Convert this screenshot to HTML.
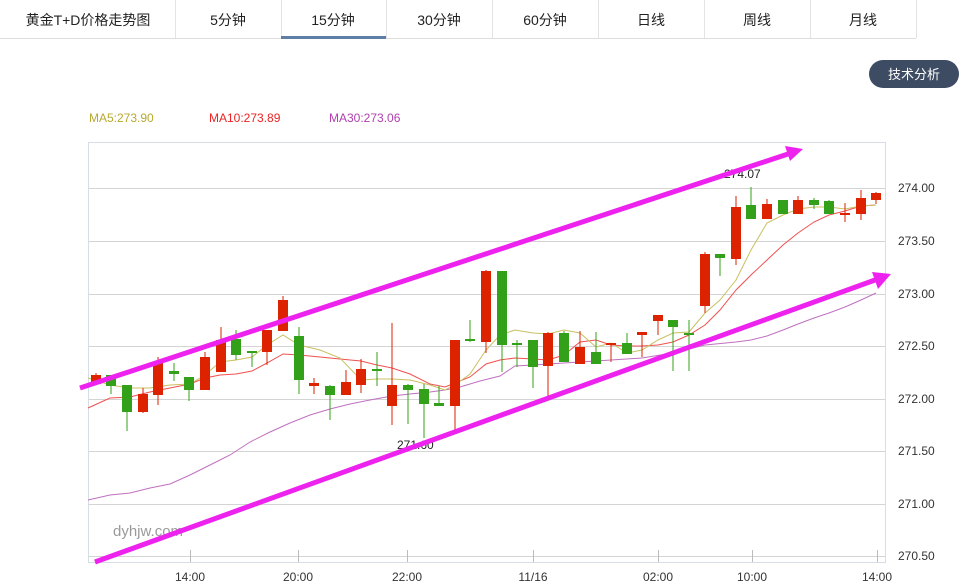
<!DOCTYPE html>
<html><head><meta charset="utf-8"><style>
body{margin:0;background:#fff;width:969px;height:587px;overflow:hidden;font-family:"Liberation Sans","Noto Sans CJK SC",sans-serif;}
</style></head><body>
<svg width="969" height="587" xmlns="http://www.w3.org/2000/svg" style="position:absolute;left:0;top:0;font-family:'Liberation Sans','Noto Sans CJK SC',sans-serif">
<!-- tabs -->
<rect x="0" y="0" width="916" height="39" fill="#fff"/>
<line x1="0" y1="38.5" x2="916" y2="38.5" stroke="#ddd"/>
<g stroke="#e3e3e3">
<line x1="175.5" y1="0" x2="175.5" y2="38"/><line x1="281.5" y1="0" x2="281.5" y2="38"/><line x1="386.5" y1="0" x2="386.5" y2="38"/><line x1="492.5" y1="0" x2="492.5" y2="38"/><line x1="598.5" y1="0" x2="598.5" y2="38"/><line x1="704.5" y1="0" x2="704.5" y2="38"/><line x1="810.5" y1="0" x2="810.5" y2="38"/><line x1="916.5" y1="0" x2="916.5" y2="38"/>
</g>
<rect x="281" y="36" width="105" height="3" fill="#5e7ea6"/>
<g font-size="14" fill="#222" text-anchor="middle">
<text x="88" y="25">黄金T+D价格走势图</text>
<text x="228" y="25">5分钟</text><text x="333" y="25">15分钟</text><text x="439" y="25">30分钟</text><text x="545" y="25">60分钟</text><text x="651" y="25">日线</text><text x="757" y="25">周线</text><text x="863" y="25">月线</text>
</g>
<rect x="869" y="60" width="90" height="28" rx="14" fill="#3d4b63"/>
<text x="914" y="79" font-size="13" fill="#fff" text-anchor="middle">技术分析</text>
<g font-size="12">
<text x="89" y="122" fill="#b8a830">MA5:273.90</text>
<text x="209" y="122" fill="#ee2222">MA10:273.89</text>
<text x="329" y="122" fill="#b040b0">MA30:273.06</text>
</g>
<!-- plot frame -->
<rect x="88.5" y="142.5" width="797" height="420" fill="none" stroke="#d6dde6"/>
<g stroke="#d4d4d4">
<line x1="89" y1="188.5" x2="885" y2="188.5"/><line x1="89" y1="241.5" x2="885" y2="241.5"/><line x1="89" y1="294.5" x2="885" y2="294.5"/><line x1="89" y1="346.5" x2="885" y2="346.5"/><line x1="89" y1="399.5" x2="885" y2="399.5"/><line x1="89" y1="451.5" x2="885" y2="451.5"/><line x1="89" y1="504.5" x2="885" y2="504.5"/><line x1="89" y1="556.5" x2="885" y2="556.5"/>
</g>
<g font-size="12" fill="#333">
<text x="898" y="192">274.00</text><text x="898" y="245">273.50</text><text x="898" y="298">273.00</text><text x="898" y="350">272.50</text><text x="898" y="403">272.00</text><text x="898" y="455">271.50</text><text x="898" y="508">271.00</text><text x="898" y="560">270.50</text>
</g>
<g stroke="#bbb"><line x1="190.5" y1="550" x2="190.5" y2="562"/><line x1="298.5" y1="550" x2="298.5" y2="562"/><line x1="407.5" y1="550" x2="407.5" y2="562"/><line x1="533.5" y1="550" x2="533.5" y2="562"/><line x1="658.5" y1="550" x2="658.5" y2="562"/><line x1="752.5" y1="550" x2="752.5" y2="562"/><line x1="877.5" y1="550" x2="877.5" y2="562"/></g>
<g font-size="12" fill="#333" text-anchor="middle">
<text x="190" y="581">14:00</text><text x="298" y="581">20:00</text><text x="407" y="581">22:00</text><text x="533" y="581">11/16</text><text x="658" y="581">02:00</text><text x="752" y="581">10:00</text><text x="877" y="581">14:00</text>
</g>
<text x="113" y="536" font-size="15" fill="#9a9a9a">dyhjw.com</text>
<!-- MA lines -->
<polyline fill="none" stroke="#c070c0" stroke-width="1" points="88,500 110,495 130,493 150,488 170,484 190,475 210,465 230,455 250,442 270,432 290,423 310,415 330,409 350,404 370,400 392,396 410,394 430,392 445,390 460,387 480,381 500,376 515,366 533,365 548,364 580,362 611,360 642,358 673,353 705,345 736,342 751,340 767,336 783,330 798,324 814,318 829,313 845,307 861,300 876,293"/>
<polyline fill="none" stroke="#f05050" stroke-width="1" points="88,408 110,398 130,397 150,392 170,388 190,384 205,378 220,375 236,374 252,371 267,363 283,354 299,355 320,357 340,359 361,361 377,365 392,368 410,374 430,384 445,387 455,383 470,377 486,364 500,360 515,358 533,359 548,360 564,355 580,342 596,340 611,345 627,346 642,346 658,345 673,342 689,335 705,325 720,310 736,290 751,275 767,260 783,245 798,233 814,222 829,215 845,211 861,206 876,205"/>
<polyline fill="none" stroke="#c8c060" stroke-width="1" points="88,378 110,385 130,388 150,388 170,385 190,384 205,375 220,362 236,360 252,357 267,345 283,335 299,345 320,350 340,358 361,380 377,379 392,379 410,380 430,385 445,390 455,385 470,374 486,350 500,335 515,330 533,333 548,334 564,330 580,333 596,347 611,343 627,353 642,350 658,340 673,333 689,332 705,313 720,300 736,280 751,250 767,223 783,215 798,209 814,207 829,207 845,209 861,206 876,205"/>
<!-- candles -->
<g id="c"></g>
<g stroke-width="1">
<!-- red: #dd2200 green: #33a019 -->
<line x1="96" y1="373" x2="96" y2="385" stroke="#dd2200"/><rect x="91" y="375" width="10" height="9" fill="#dd2200"/>
<line x1="111" y1="375" x2="111" y2="394" stroke="#33a019"/><rect x="106" y="375" width="10" height="11" fill="#33a019"/>
<line x1="127" y1="385" x2="127" y2="431" stroke="#33a019"/><rect x="122" y="385" width="10" height="27" fill="#33a019"/>
<line x1="143" y1="388" x2="143" y2="413" stroke="#dd2200"/><rect x="138" y="394" width="10" height="18" fill="#dd2200"/>
<line x1="158" y1="357" x2="158" y2="405" stroke="#dd2200"/><rect x="153" y="363" width="10" height="32" fill="#dd2200"/>
<line x1="174" y1="363" x2="174" y2="381" stroke="#33a019"/><rect x="169" y="371" width="10" height="3" fill="#33a019"/>
<line x1="189" y1="377" x2="189" y2="401" stroke="#33a019"/><rect x="184" y="377" width="10" height="13" fill="#33a019"/>
<line x1="205" y1="352" x2="205" y2="390" stroke="#dd2200"/><rect x="200" y="357" width="10" height="33" fill="#dd2200"/>
<line x1="221" y1="327" x2="221" y2="372" stroke="#dd2200"/><rect x="216" y="340" width="10" height="32" fill="#dd2200"/>
<line x1="236" y1="330" x2="236" y2="360" stroke="#33a019"/><rect x="231" y="339" width="10" height="16" fill="#33a019"/>
<line x1="252" y1="351" x2="252" y2="367" stroke="#33a019"/><rect x="247" y="351" width="10" height="2" fill="#33a019"/>
<line x1="267" y1="330" x2="267" y2="365" stroke="#dd2200"/><rect x="262" y="330" width="10" height="22" fill="#dd2200"/>
<line x1="283" y1="296" x2="283" y2="331" stroke="#dd2200"/><rect x="278" y="300" width="10" height="31" fill="#dd2200"/>
<line x1="299" y1="327" x2="299" y2="394" stroke="#33a019"/><rect x="294" y="336" width="10" height="44" fill="#33a019"/>
<line x1="314" y1="378" x2="314" y2="394" stroke="#dd2200"/><rect x="309" y="383" width="10" height="3" fill="#dd2200"/>
<line x1="330" y1="385" x2="330" y2="420" stroke="#33a019"/><rect x="325" y="386" width="10" height="9" fill="#33a019"/>
<line x1="346" y1="370" x2="346" y2="395" stroke="#dd2200"/><rect x="341" y="382" width="10" height="13" fill="#dd2200"/>
<line x1="361" y1="359" x2="361" y2="393" stroke="#dd2200"/><rect x="356" y="369" width="10" height="16" fill="#dd2200"/>
<line x1="377" y1="352" x2="377" y2="386" stroke="#33a019"/><rect x="372" y="369" width="10" height="2" fill="#33a019"/>
<line x1="392" y1="323" x2="392" y2="425" stroke="#dd2200"/><rect x="387" y="385" width="10" height="21" fill="#dd2200"/>
<line x1="408" y1="384" x2="408" y2="424" stroke="#33a019"/><rect x="403" y="385" width="10" height="5" fill="#33a019"/>
<line x1="424" y1="384" x2="424" y2="438" stroke="#33a019"/><rect x="419" y="389" width="10" height="15" fill="#33a019"/>
<line x1="439" y1="386" x2="439" y2="406" stroke="#33a019"/><rect x="434" y="403" width="10" height="3" fill="#33a019"/>
<line x1="455" y1="340" x2="455" y2="431" stroke="#dd2200"/><rect x="450" y="340" width="10" height="66" fill="#dd2200"/>
<line x1="470" y1="320" x2="470" y2="342" stroke="#33a019"/><rect x="465" y="339" width="10" height="2" fill="#33a019"/>
<line x1="486" y1="270" x2="486" y2="353" stroke="#dd2200"/><rect x="481" y="271" width="10" height="71" fill="#dd2200"/>
<line x1="502" y1="271" x2="502" y2="372" stroke="#33a019"/><rect x="497" y="271" width="10" height="74" fill="#33a019"/>
<line x1="517" y1="340" x2="517" y2="367" stroke="#33a019"/><rect x="512" y="343" width="10" height="2" fill="#33a019"/>
<line x1="533" y1="340" x2="533" y2="388" stroke="#33a019"/><rect x="528" y="340" width="10" height="27" fill="#33a019"/>
<line x1="548" y1="332" x2="548" y2="399" stroke="#dd2200"/><rect x="543" y="333" width="10" height="33" fill="#dd2200"/>
<line x1="564" y1="331" x2="564" y2="362" stroke="#33a019"/><rect x="559" y="333" width="10" height="29" fill="#33a019"/>
<line x1="580" y1="331" x2="580" y2="364" stroke="#dd2200"/><rect x="575" y="347" width="10" height="17" fill="#dd2200"/>
<line x1="596" y1="332" x2="596" y2="364" stroke="#33a019"/><rect x="591" y="352" width="10" height="12" fill="#33a019"/>
<line x1="611" y1="343" x2="611" y2="362" stroke="#dd2200"/><rect x="606" y="343" width="10" height="2" fill="#dd2200"/>
<line x1="627" y1="333" x2="627" y2="354" stroke="#33a019"/><rect x="622" y="343" width="10" height="11" fill="#33a019"/>
<line x1="642" y1="332" x2="642" y2="357" stroke="#dd2200"/><rect x="637" y="332" width="10" height="3" fill="#dd2200"/>
<line x1="658" y1="315" x2="658" y2="335" stroke="#dd2200"/><rect x="653" y="315" width="10" height="6" fill="#dd2200"/>
<line x1="673" y1="320" x2="673" y2="371" stroke="#33a019"/><rect x="668" y="320" width="10" height="7" fill="#33a019"/>
<line x1="689" y1="320" x2="689" y2="371" stroke="#33a019"/><rect x="684" y="333" width="10" height="2" fill="#33a019"/>
<line x1="705" y1="252" x2="705" y2="313" stroke="#dd2200"/><rect x="700" y="254" width="10" height="52" fill="#dd2200"/>
<line x1="720" y1="254" x2="720" y2="276" stroke="#33a019"/><rect x="715" y="254" width="10" height="4" fill="#33a019"/>
<line x1="736" y1="196" x2="736" y2="265" stroke="#dd2200"/><rect x="731" y="207" width="10" height="52" fill="#dd2200"/>
<line x1="751" y1="187" x2="751" y2="219" stroke="#33a019"/><rect x="746" y="205" width="10" height="14" fill="#33a019"/>
<line x1="767" y1="199" x2="767" y2="219" stroke="#dd2200"/><rect x="762" y="204" width="10" height="15" fill="#dd2200"/>
<line x1="783" y1="200" x2="783" y2="214" stroke="#33a019"/><rect x="778" y="200" width="10" height="14" fill="#33a019"/>
<line x1="798" y1="196" x2="798" y2="214" stroke="#dd2200"/><rect x="793" y="200" width="10" height="14" fill="#dd2200"/>
<line x1="814" y1="198" x2="814" y2="209" stroke="#33a019"/><rect x="809" y="200" width="10" height="5" fill="#33a019"/>
<line x1="829" y1="200" x2="829" y2="214" stroke="#33a019"/><rect x="824" y="201" width="10" height="13" fill="#33a019"/>
<line x1="845" y1="203" x2="845" y2="222" stroke="#dd2200"/><rect x="840" y="213" width="10" height="2" fill="#dd2200"/>
<line x1="861" y1="190" x2="861" y2="220" stroke="#dd2200"/><rect x="856" y="198" width="10" height="16" fill="#dd2200"/>
<line x1="876" y1="192" x2="876" y2="204" stroke="#dd2200"/><rect x="871" y="193" width="10" height="7" fill="#dd2200"/>
</g>
<text x="397" y="449" font-size="12" fill="#222">271.60</text>
<text x="724" y="178" font-size="12" fill="#222">274.07</text>
<!-- arrows -->
<g fill="#ee22ee" stroke="#ee22ee">
<line x1="80" y1="388" x2="788" y2="154" stroke-width="5"/>
<polygon points="803,149 785,146 790,161" stroke="none"/>
<line x1="95" y1="562" x2="875" y2="280" stroke-width="5"/>
<polygon points="891,274 872,272 878,289" stroke="none"/>
</g>
</svg>
</body></html>
